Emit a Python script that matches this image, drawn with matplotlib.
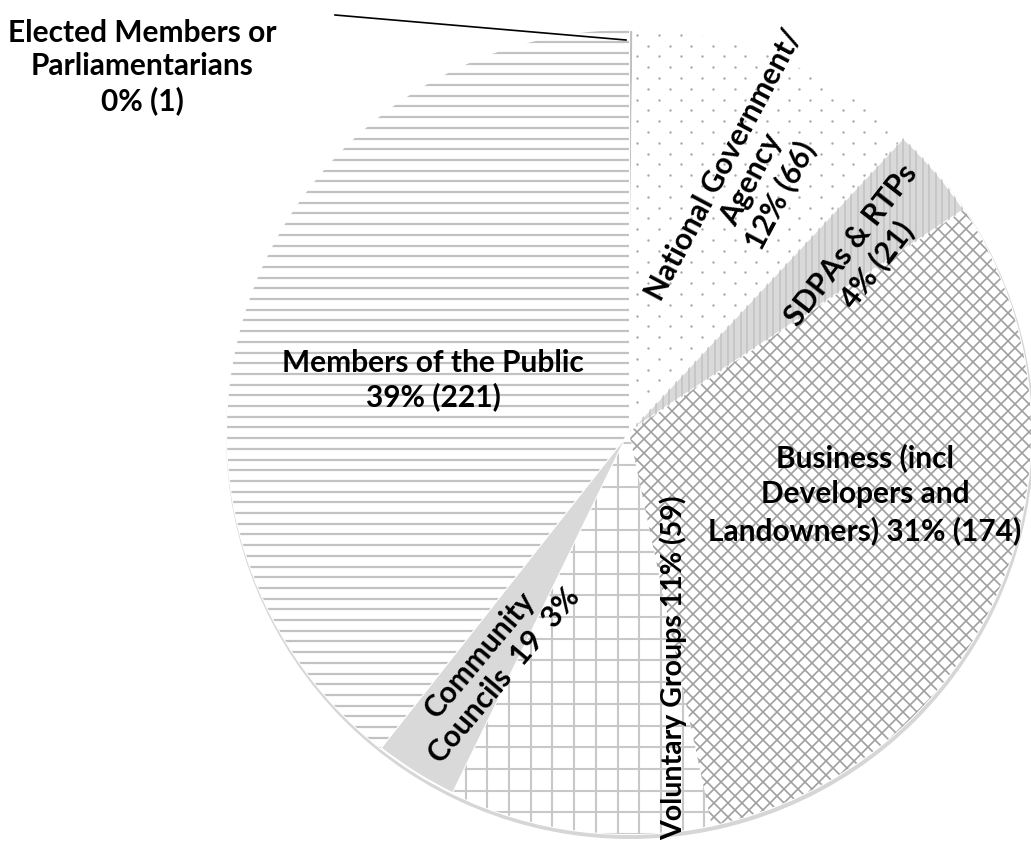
import numpy as np
import matplotlib
matplotlib.use("Agg")
import matplotlib.pyplot as plt
from matplotlib.collections import LineCollection
from matplotlib.patches import Circle

# respondent groups, clockwise from 12 o'clock
groups = ["Elected Members or Parliamentarians", "National Government/ Agency",
          "SDPAs & RTPs", "Business (incl Developers and Landowners)",
          "Voluntary Groups", "Community Councils", "Members of the Public"]
counts = [1, 66, 21, 174, 59, 19, 221]
labels = ["Elected Members or\nParliamentarians\n0% (1)",
          "National Government/\nAgency\n12% (66)",
          "SDPAs & RTPs\n4% (21)",
          "Business (incl\nDevelopers and\nLandowners) 31% (174)",
          "Voluntary Groups 11% (59)",
          "Community\nCouncils  19  3%",
          "Members of the Public\n39% (221)"]

W, H = 1031, 842
cx, cy, R = 629, H - 432, 402

plt.rcParams['font.family'] = ['Lato', 'DejaVu Sans']
fig = plt.figure(figsize=(W / 100, H / 100), dpi=100)
ax = fig.add_axes([0, 0, 1, 1])

# soft shadow round the pie
ax.add_patch(Circle((cx + 1, cy - 3), R + 2, facecolor="#d6d6d6", edgecolor="none", zorder=0))

face = ["#bfbfbf", "white", "#d9d9d9", "white", "white", "#d9d9d9", "white"]
wedges, _ = ax.pie(counts, startangle=90, counterclock=False, radius=R,
                   center=(cx, cy), colors=face,
                   wedgeprops=dict(edgecolor="white", linewidth=1.5))
for w in wedges:
    w.set_zorder(1)


def clipped(segs, wedge, color, lw):
    lc = LineCollection(segs, colors=color, linewidths=lw, zorder=2)
    ax.add_collection(lc)
    lc.set_clip_path(wedge)


x0, x1, y0, y1 = cx - R, cx + R, cy - R, cy + R

# National Government: sparse dots
pts = []
for i, y in enumerate(np.arange(y0, y1, 10.8)):
    off = 0 if i % 2 == 0 else 10.8
    for x in np.arange(x0 + off, x1, 21.6):
        pts.append((x, y))
pts = np.array(pts)
sc = ax.scatter(pts[:, 0], pts[:, 1], s=3, color="#a8a8a8", linewidths=0, zorder=2)
sc.set_clip_path(wedges[1])

# SDPAs: vertical stripes on grey
clipped([[(x, y0), (x, y1)] for x in np.arange(x0, x1, 6.5)], wedges[2], "#c4c4c4", 1.2)

# Business: diagonal cross hatch
d = 14
segs = []
for c in np.arange(x0 - 2 * R, x1 + 2 * R, d):
    segs.append([(c, y0), (c + 2 * R, y1)])
    segs.append([(c, y1), (c + 2 * R, y0)])
clipped(segs, wedges[3], "#a0a0a0", 1.2)

# Voluntary Groups: square grid
g = 21.7
segs = [[(x, y0), (x, y1)] for x in np.arange(x0, x1, g)]
segs += [[(x0, y), (x1, y)] for y in np.arange(y0, y1, g)]
clipped(segs, wedges[4], "#c8c8c8", 1.5)

# Members of the Public: horizontal lines
clipped([[(x0, y), (x1, y)] for y in np.arange(y0, y1, 10.7)], wedges[6], "#c2c2c2", 1.6)

# labels (pixel positions measured from top)
fs = 21.5
txt = dict(fontweight="bold", ha="center", va="center", zorder=5)
ax.text(142, H - 67, labels[0], fontsize=fs, linespacing=1.22, **txt)
ax.plot([335, 626], [H - 15, H - 40], color="black", lw=1.2, zorder=5)
ax.text(752, H - 180, labels[1], fontsize=fs, rotation=62, linespacing=1.15, **txt)
ax.text(864, H - 255, labels[2], fontsize=fs, rotation=52, linespacing=1.15, **txt)
ax.text(865, H - 494, labels[3], fontsize=fs, linespacing=1.33, **txt)
ax.text(673, H - 668, labels[4], fontsize=20.5, rotation=90, **txt)
ax.text(492, H - 665, labels[5], fontsize=fs, rotation=50, linespacing=1.15, **txt)
ax.text(433, H - 380, labels[6], fontsize=fs, linespacing=1.22, **txt)

ax.set_xlim(0, W)
ax.set_ylim(0, H)
ax.set_aspect("equal")
ax.axis("off")
fig.savefig("out.png", dpi=100, facecolor="white")
